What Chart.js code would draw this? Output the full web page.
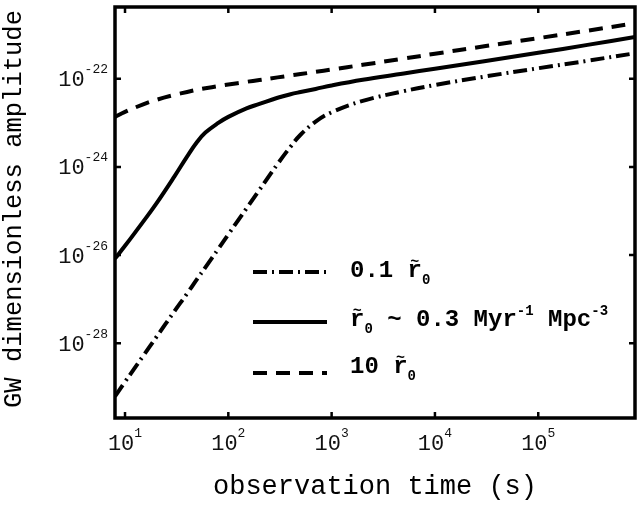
<!DOCTYPE html>
<html>
<head>
<meta charset="utf-8">
<script src="https://cdn.jsdelivr.net/npm/chart.js@4.4.0/dist/chart.umd.min.js"></script>
<style>
  html, body { margin: 0; padding: 0; background: #fff; }
  #wrap { width: 638px; height: 523px; }
</style>
</head>
<body>
<div id="wrap"><canvas id="gw-chart" width="638" height="523"></canvas></div>
<script>
// observation time (s) and the three GW amplitude curves
const timeS = [8, 10, 15, 20, 30, 40, 50, 60, 80, 100, 150, 200, 300, 400, 500, 700,
  1000, 2000, 5000, 1e4, 3e4, 1e5, 3e5, 8.64e5];
const ampLowRate = [6.17e-30, 1.32e-29, 5.13e-29, 1.35e-28, 5.25e-28, 1.35e-27, 2.88e-27,
  5.25e-27, 1.38e-26, 2.95e-26, 1.15e-25, 3.02e-25, 1.17e-24, 2.88e-24, 5.37e-24, 1.07e-23,
  1.74e-23, 3.16e-23, 5.25e-23, 7.24e-23, 1.12e-22, 1.74e-22, 2.57e-22, 3.80e-22];
const ampNominal = [8.32e-27, 1.62e-26, 5.75e-26, 1.45e-25, 6.03e-25, 1.74e-24, 3.72e-24,
  6.03e-24, 1.00e-23, 1.37e-23, 2.14e-23, 2.69e-23, 3.72e-23, 4.47e-23, 5.01e-23, 5.89e-23,
  7.08e-23, 9.55e-23, 1.32e-22, 1.70e-22, 2.51e-22, 3.89e-22, 5.89e-22, 8.91e-22];
const ampHighRate = [1.37e-23, 1.78e-23, 2.63e-23, 3.32e-23, 4.31e-23, 5.04e-23, 5.65e-23,
  6.11e-23, 6.84e-23, 7.43e-23, 8.55e-23, 9.40e-23, 1.08e-22, 1.19e-22, 1.28e-22, 1.44e-22,
  1.63e-22, 2.08e-22, 2.88e-22, 3.71e-22, 5.47e-22, 8.38e-22, 1.24e-21, 1.82e-21];

const xTicks = [1e1, 1e2, 1e3, 1e4, 1e5];
const xTickExp = ['1', '2', '3', '4', '5'];
const yTicks = [1e-22, 1e-24, 1e-26, 1e-28];
const yTickExp = ['-22', '-24', '-26', '-28'];

const xTitle = 'observation time (s)';
const yTitle = 'GW dimensionless amplitude';

const MONO = '"Liberation Mono", "DejaVu Sans Mono", monospace';
const DASH_DOT = [14, 5, 2, 5];
const DASHED = [14, 9];

function toPoints(ys) {
  return timeS.map((t, i) => ({ x: t, y: ys[i] }));
}

// draws runs of text with different fonts / offsets on one baseline
function drawParts(ctx, x, y, parts, align) {
  let total = 0;
  parts.forEach((p) => {
    ctx.font = p.font;
    p.w = ctx.measureText(p.t).width;
    total += p.w;
  });
  let cx = x;
  if (align === 'center') cx = x - total / 2;
  if (align === 'right') cx = x - total;
  ctx.textAlign = 'left';
  ctx.textBaseline = 'alphabetic';
  parts.forEach((p) => {
    ctx.font = p.font;
    ctx.fillText(p.t, cx, y + (p.dy || 0));
    if (p.tilde) {
      ctx.font = 'bold 15px ' + MONO;
      ctx.textAlign = 'center';
      ctx.fillText('~', cx + p.w / 2, y - 11);
      ctx.textAlign = 'left';
    }
    cx += p.w;
  });
}

const B = 'bold 24px ' + MONO;
const BS = 'bold 14px ' + MONO;
const rTilde = () => [{ t: 'r', font: B, tilde: true }, { t: '0', font: BS, dy: 7 }];

const legendRows = [
  { dash: DASH_DOT, lineY: 272, textY: 277, parts: [{ t: '0.1 ', font: B }, ...rTilde()] },
  { dash: [], lineY: 322, textY: 326, parts: [...rTilde(), { t: ' ~ 0.3 Myr', font: B },
    { t: '-1', font: BS, dy: -11 }, { t: ' Mpc', font: B }, { t: '-3', font: BS, dy: -11 }] },
  { dash: DASHED, lineY: 373, textY: 373, parts: [{ t: '10 ', font: B }, ...rTilde()] },
];

const framePlugin = {
  id: 'frame',
  afterDraw(chart) {
    const { ctx, chartArea: a, scales } = chart;
    const xs = scales.x;
    const ys = scales.y;
    ctx.save();
    ctx.fillStyle = '#000';
    ctx.strokeStyle = '#000';

    // frame
    ctx.lineWidth = 3.5;
    ctx.setLineDash([]);
    ctx.strokeRect(a.left, a.top, a.right - a.left, a.bottom - a.top);

    // inward ticks, bottom/top and left/right
    ctx.lineWidth = 2.5;
    ctx.beginPath();
    xTicks.forEach((v) => {
      const px = xs.getPixelForValue(v);
      ctx.moveTo(px, a.bottom); ctx.lineTo(px, a.bottom - 6);
      ctx.moveTo(px, a.top); ctx.lineTo(px, a.top + 6);
    });
    yTicks.forEach((v) => {
      const py = ys.getPixelForValue(v);
      ctx.moveTo(a.left, py); ctx.lineTo(a.left + 6, py);
      ctx.moveTo(a.right, py); ctx.lineTo(a.right - 6, py);
    });
    ctx.stroke();

    // tick labels
    ctx.fillStyle = '#111';
    xTicks.forEach((v, i) => {
      const px = xs.getPixelForValue(v);
      drawParts(ctx, px, 450, [
        { t: '10', font: '22px ' + MONO },
        { t: xTickExp[i], font: '13px ' + MONO, dy: -13 },
      ], 'center');
    });
    yTicks.forEach((v, i) => {
      const py = ys.getPixelForValue(v);
      drawParts(ctx, 108, py + 7.5, [
        { t: '10', font: '22px ' + MONO },
        { t: yTickExp[i], font: '13px ' + MONO, dy: -13 },
      ], 'right');
    });

    // axis titles
    ctx.fillStyle = '#000';
    ctx.font = '27px ' + MONO;
    ctx.textAlign = 'center';
    ctx.textBaseline = 'alphabetic';
    ctx.fillText(xTitle, (a.left + a.right) / 2, 494);
    ctx.save();
    ctx.translate(21, 209);
    ctx.rotate(-Math.PI / 2);
    ctx.font = '25.5px ' + MONO;
    ctx.fillText(yTitle, 0, 0);
    ctx.restore();

    // legend
    legendRows.forEach((row) => {
      ctx.lineWidth = 4;
      ctx.setLineDash(row.dash);
      ctx.beginPath();
      ctx.moveTo(253, row.lineY);
      ctx.lineTo(327, row.lineY);
      ctx.stroke();
      ctx.setLineDash([]);
      drawParts(ctx, 350, row.textY, row.parts, 'left');
    });
    ctx.restore();
  },
};

const lineStyle = {
  borderColor: '#000',
  borderWidth: 4,
  pointRadius: 0,
  fill: false,
  tension: 0.4,
};

new Chart(document.getElementById('gw-chart'), {
  type: 'line',
  data: {
    datasets: [
      { label: '0.1 r0', data: toPoints(ampLowRate), borderDash: DASH_DOT, ...lineStyle },
      { label: 'r0 ~ 0.3 Myr-1 Mpc-3', data: toPoints(ampNominal), ...lineStyle },
      { label: '10 r0', data: toPoints(ampHighRate), borderDash: DASHED, ...lineStyle },
    ],
  },
  options: {
    responsive: false,
    devicePixelRatio: 1,
    animation: false,
    layout: { padding: { top: 7, right: 3, left: 0, bottom: 0 } },
    plugins: { legend: { display: false }, tooltip: { enabled: false } },
    scales: {
      x: {
        type: 'logarithmic',
        min: 8,
        max: 8.64e5,
        grid: { display: false },
        border: { display: false },
        ticks: { display: false },
        afterFit: (scale) => { scale.height = 105; },
      },
      y: {
        type: 'logarithmic',
        min: 2.24e-30,
        max: 4.27e-21,
        grid: { display: false },
        border: { display: false },
        ticks: { display: false },
        afterFit: (scale) => { scale.width = 115; },
      },
    },
  },
  plugins: [framePlugin],
});
</script>
</body>
</html>
